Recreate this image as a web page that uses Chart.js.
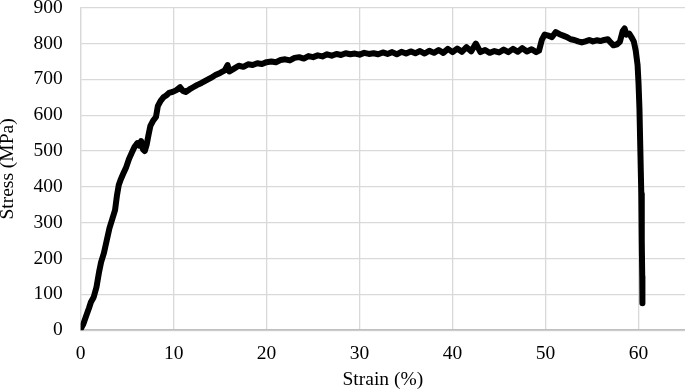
<!DOCTYPE html>
<html>
<head>
<meta charset="utf-8">
<script src="https://cdn.jsdelivr.net/npm/chart.js@4"></script>
<style>
  html, body { margin: 0; padding: 0; background: #fff; overflow: hidden; }
  #box { position: relative; top: -22px; left: -6px; width: 691px; height: 414px; }
</style>
</head>
<body>
<div id="box"><canvas id="chart"></canvas></div>
<script>
// Strain (%) values
const strain = [
  0, 0.3, 0.6, 0.9, 1.1, 1.4, 1.7, 2.0, 2.2, 2.5, 2.8, 3.1, 3.4, 3.7, 3.9, 4.1, 4.3, 4.6, 4.9, 5.2,
  5.5, 5.8, 6.1, 6.3, 6.5, 6.7, 6.9, 7.1, 7.3, 7.5, 7.8, 8.1, 8.3, 8.6, 8.9, 9.2, 9.5, 9.9, 10.3, 10.7,
  11.0, 11.3, 11.7, 12.1, 12.5, 13.0, 13.5, 14.0, 14.5, 15.0, 15.5, 15.8, 16.0, 16.5, 17.0, 17.5, 18.0, 18.5, 19.0, 19.5,
  20.0, 20.5, 21.0, 21.5, 22.0, 22.5, 23.0, 23.5, 24.0, 24.5, 25.0, 25.5, 26.0, 26.5, 27.0, 27.5, 28.0, 28.5, 29.0, 29.5,
  30.0, 30.5, 31.0, 31.5, 32.0, 32.5, 33.0, 33.5, 34.0, 34.5, 35.0, 35.5, 36.0, 36.5, 37.0, 37.5, 38.0, 38.5, 39.0, 39.5,
  40.0, 40.5, 41.0, 41.5, 42.0, 42.5, 43.0, 43.5, 44.0, 44.5, 45.0, 45.5, 46.0, 46.5, 47.0, 47.5, 48.0, 48.5, 49.0, 49.3,
  49.6, 49.9, 50.3, 50.7, 51.1, 51.5, 51.9, 52.3, 52.7, 53.1, 53.5, 53.9, 54.3, 54.7, 55.1, 55.5, 55.9, 56.3, 56.7, 57.0,
  57.3, 57.7, 58.0, 58.3, 58.5, 58.7, 59.0, 59.3, 59.5, 59.7, 59.9, 60.0, 60.1, 60.2, 60.3, 60.35, 60.4, 60.42
];

// Stress (MPa) values matching strain
const stress = [
  3, 18, 40, 62, 78, 92, 120, 165, 190, 215, 250, 285, 310, 335, 375, 405, 420, 438, 455, 478,
  495, 512, 522, 515, 528, 505, 500, 518, 545, 570, 585, 595, 625, 640, 650, 655, 662, 665, 670, 678,
  668, 665, 672, 678, 684, 690, 697, 704, 712, 718, 725, 740, 722, 730, 738, 735, 742, 740, 745, 743,
  748, 750, 748, 754, 756, 753, 760, 762, 758, 765, 762, 767, 764, 770, 766, 771, 768, 773, 770, 772,
  769, 774, 771, 773, 770, 775, 771, 776, 770, 777, 772, 778, 773, 779, 772, 780, 774, 782, 774, 785,
  776, 786, 777, 790, 778, 800, 776, 782, 774, 779, 775, 783, 776, 785, 777, 787, 778, 784, 776, 780,
  810, 825, 822, 818, 832, 826, 822, 818, 812, 810, 806, 803, 806, 810, 806, 809, 807, 810, 812, 803,
  795, 798, 805, 835, 842, 825, 828, 815, 805, 780, 740, 690, 620, 500, 380, 250, 150, 75
];

const xTicks = [0, 10, 20, 30, 40, 50, 60];
const yTicks = [0, 100, 200, 300, 400, 500, 600, 700, 800, 900];

const points = strain.map((s, i) => ({ x: s, y: stress[i] }));

const font = { family: "'Liberation Serif', 'Times New Roman', serif", size: 19.5 };

new Chart(document.getElementById('chart').getContext('2d'), {
  type: 'line',
  data: {
    datasets: [{
      label: 'Stress',
      data: points,
      borderColor: '#000',
      borderWidth: 6,
      borderJoinStyle: 'round',
      borderCapStyle: 'round',
      pointRadius: 0,
      tension: 0,
      fill: false
    }]
  },
  options: {
    responsive: true,
    maintainAspectRatio: false,
    animation: false,
    layout: { padding: 0 },
    plugins: {
      legend: { display: false },
      tooltip: { enabled: false }
    },
    scales: {
      x: {
        type: 'linear',
        min: 0,
        max: 65,
        afterBuildTicks: axis => { axis.ticks = xTicks.map(v => ({ value: v })); },
        ticks: { color: '#000', font: font, maxRotation: 0, padding: 12 },
        grid: { color: '#d9d9d9', lineWidth: 1.3, drawTicks: false },
        border: { color: '#bfbfbf', width: 1.5 },
        title: { display: true, text: 'Strain (%)', color: '#000', font: font, padding: { top: -9, bottom: 0 } }
      },
      y: {
        min: 0,
        max: 900,
        afterBuildTicks: axis => { axis.ticks = yTicks.map(v => ({ value: v })); },
        ticks: { color: '#000', font: font, padding: 18 },
        grid: { color: '#d9d9d9', lineWidth: 1.3, drawTicks: false },
        border: { color: '#d9d9d9', width: 1.3 },
        title: { display: true, text: 'Stress (MPa)', color: '#000', font: font, padding: { top: 2, bottom: -4 } }
      }
    }
  }
});
</script>
</body>
</html>
